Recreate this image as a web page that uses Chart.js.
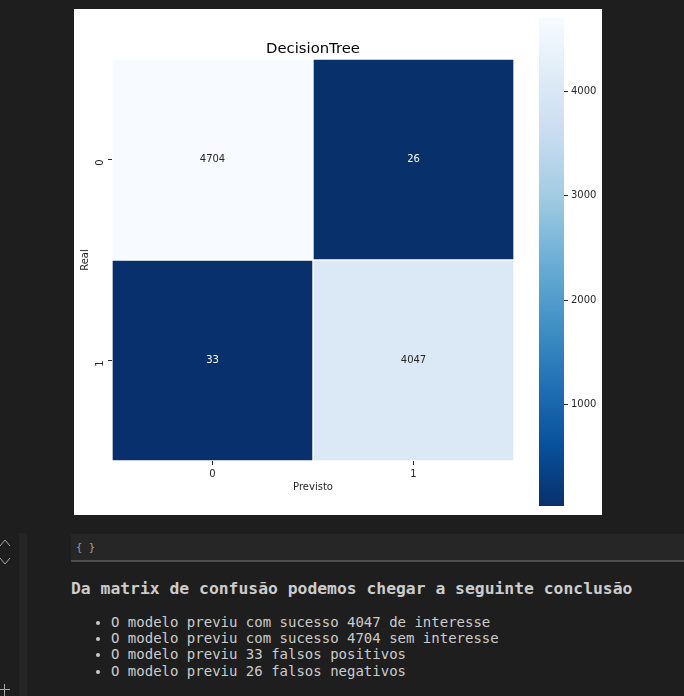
<!DOCTYPE html>
<html lang="pt">
<head>
<meta charset="utf-8">
<title>DecisionTree</title>
<script src="https://cdn.jsdelivr.net/npm/chart.js@4/dist/chart.umd.min.js"></script>
<style>
    html, body { margin: 0; padding: 0; background: #1e1e1e; }
    body { position: relative; width: 684px; height: 696px; overflow: hidden; font-family: "DejaVu Sans Mono", monospace; color: #cccccc; }
    .figure { position: absolute; left: 74px; top: 9px; width: 528px; height: 506px; background: #ffffff; }
    #heatmap { position: absolute; left: 74px; top: 9px; }
    #colorbar { position: absolute; left: 539px; top: 9px; }
    .gutter { position: absolute; left: 19px; top: 533px; width: 8px; height: 163px; background: #252525; }
    .code-cell { position: absolute; left: 71px; top: 534px; width: 613px; height: 26px; background: #262626; border-bottom: 2px solid #4f4f4f; }
    .code-cell span { position: absolute; left: 5px; top: 5px; font-size: 10.5px; line-height: 16px; color: #a0a0a0; }
    h3 { position: absolute; left: 71px; top: 579px; margin: 0; font-size: 16.36px; line-height: 20px; font-weight: bold; color: #cccccc; white-space: nowrap; }
    ul { position: absolute; left: 71px; top: 614px; margin: 0; padding: 0 0 0 40px; font-size: 14px; line-height: 16.2px; color: #cccccc; white-space: nowrap; }
    svg { position: absolute; left: 0; top: 0; }
</style>
</head>
<body>
<svg width="12" height="696" fill="none" stroke="#a8a8a8" stroke-width="1">
    <path d="M0 546 L5 540 L10 546"/>
    <path d="M0 558 L5 564 L10 558"/>
    <path d="M0 689.5 H10 M4.5 684 V696"/>
</svg>
<div class="gutter"></div>
<div class="figure"></div>
<canvas id="heatmap" width="528" height="506"></canvas>
<canvas id="colorbar" width="63" height="506"></canvas>
<div class="code-cell"><span>{ }</span></div>
<h3>Da matrix de confusão podemos chegar a seguinte conclusão</h3>
<ul>
    <li>O modelo previu com sucesso 4047 de interesse</li>
    <li>O modelo previu com sucesso 4704 sem interesse</li>
    <li>O modelo previu 33 falsos positivos</li>
    <li>O modelo previu 26 falsos negativos</li>
</ul>
<script>
    var predictedLabels = ['0', '1'];
    var realLabels = ['0', '1'];
    var realZeroRow = [4704, 26];
    var realOneRow = [33, 4047];
    var colorbarTicks = [1000, 2000, 3000, 4000];
    var bluesStops = ['#f7fbff', '#deebf7', '#c6dbef', '#9ecae1', '#6baed6', '#4292c6', '#2171b5', '#08519c', '#08306b'];

    var allValues = realZeroRow.concat(realOneRow);
    var minValue = Math.min.apply(null, allValues);
    var maxValue = Math.max.apply(null, allValues);
    var inkColor = '#262626';
    var labelFont = { family: 'DejaVu Sans', size: 10 };

    function hexToRgb(hex) {
        return [1, 3, 5].map(function(i) { return parseInt(hex.substr(i, 2), 16); });
    }

    // reversed Blues: highest value is the lightest colour
    function valueColor(v) {
        var pos = (maxValue - v) / (maxValue - minValue) * (bluesStops.length - 1);
        var i = Math.min(Math.floor(pos), bluesStops.length - 2);
        var a = hexToRgb(bluesStops[i]);
        var b = hexToRgb(bluesStops[i + 1]);
        var f = pos - i;
        return 'rgb(' + [0, 1, 2].map(function(k) { return Math.round(a[k] + (b[k] - a[k]) * f); }).join(',') + ')';
    }

    function rowDataset(values, rowIndex) {
        return {
            data: values.map(function() { return [rowIndex, rowIndex + 1]; }),
            backgroundColor: values.map(valueColor),
            borderColor: '#ffffff',
            borderWidth: 1,
            borderSkipped: false,
            barPercentage: 1,
            categoryPercentage: 1,
            grouped: false,
            cellValues: values
        };
    }

    var cellTextPlugin = {
        id: 'cellText',
        afterDatasetsDraw: function(chart) {
            var ctx = chart.ctx;
            ctx.save();
            ctx.font = '10px "DejaVu Sans"';
            ctx.textAlign = 'center';
            ctx.textBaseline = 'middle';
            chart.data.datasets.forEach(function(ds, row) {
                ds.cellValues.forEach(function(v, col) {
                    ctx.fillStyle = v < (minValue + maxValue) / 2 ? '#ffffff' : inkColor;
                    ctx.fillText(String(v), chart.scales.x.getPixelForValue(col), chart.scales.y.getPixelForValue(row + 0.5));
                });
            });
            ctx.restore();
        }
    };

    new Chart(document.getElementById('heatmap'), {
        type: 'bar',
        data: {
            labels: predictedLabels,
            datasets: [rowDataset(realZeroRow, 0), rowDataset(realOneRow, 1)]
        },
        plugins: [cellTextPlugin],
        options: {
            responsive: false,
            animation: false,
            devicePixelRatio: 1,
            layout: { padding: { top: 0, right: 88, bottom: 0, left: 0 } },
            plugins: {
                legend: { display: false },
                tooltip: { enabled: false },
                title: {
                    display: true,
                    fullSize: false,
                    text: 'DecisionTree',
                    color: '#000000',
                    font: { family: 'DejaVu Sans', size: 14.8, weight: 'normal' },
                    padding: { top: 31.5, bottom: 0.74 }
                }
            },
            scales: {
                x: {
                    grid: { drawOnChartArea: false, color: inkColor, tickLength: 4, offset: false },
                    border: { display: false },
                    ticks: { color: inkColor, font: labelFont, padding: 3, maxRotation: 0 },
                    title: { display: true, text: 'Previsto', color: inkColor, font: labelFont, padding: { top: 0, bottom: 22 } },
                    afterFit: function(scale) { scale.height = 54; }
                },
                y: {
                    reverse: true,
                    min: 0,
                    max: 2,
                    afterBuildTicks: function(scale) {
                        scale.ticks = realLabels.map(function(label, i) { return { value: i + 0.5, label: label }; });
                    },
                    grid: { drawOnChartArea: false, color: inkColor, tickLength: 4 },
                    border: { display: false },
                    ticks: {
                        color: inkColor,
                        font: labelFont,
                        padding: 8,
                        minRotation: 90,
                        maxRotation: 90,
                        callback: function(value) { return realLabels[Math.floor(value)]; }
                    },
                    title: { display: true, text: 'Real', color: inkColor, font: labelFont, padding: { top: 5.5, bottom: 0 } },
                    afterFit: function(scale) { scale.width = 38; }
                }
            }
        }
    });

    function colorbarFill(context) {
        var chart = context.chart;
        if (!chart.chartArea) return bluesStops[4];
        var g = chart.ctx.createLinearGradient(0, chart.scales.y.getPixelForValue(maxValue), 0, chart.scales.y.getPixelForValue(minValue));
        bluesStops.forEach(function(c, i) { g.addColorStop(i / (bluesStops.length - 1), c); });
        return g;
    }

    new Chart(document.getElementById('colorbar'), {
        type: 'bar',
        data: {
            labels: [''],
            datasets: [{
                data: [[minValue, maxValue]],
                backgroundColor: colorbarFill,
                borderWidth: 0,
                barPercentage: 1,
                categoryPercentage: 1
            }]
        },
        options: {
            responsive: false,
            animation: false,
            devicePixelRatio: 1,
            layout: { padding: { top: 7, right: 0, bottom: 9, left: 0 } },
            plugins: { legend: { display: false }, tooltip: { enabled: false } },
            scales: {
                x: { display: false },
                y: {
                    position: 'right',
                    min: minValue,
                    max: maxValue,
                    afterBuildTicks: function(scale) {
                        scale.ticks = colorbarTicks.map(function(v) { return { value: v }; });
                    },
                    grid: { drawOnChartArea: false, color: inkColor, tickLength: 4 },
                    border: { display: false },
                    ticks: {
                        color: inkColor,
                        font: labelFont,
                        padding: 3,
                        callback: function(value) { return String(value); }
                    },
                    afterFit: function(scale) { scale.width = 38; }
                }
            }
        }
    });
</script>
</body>
</html>
